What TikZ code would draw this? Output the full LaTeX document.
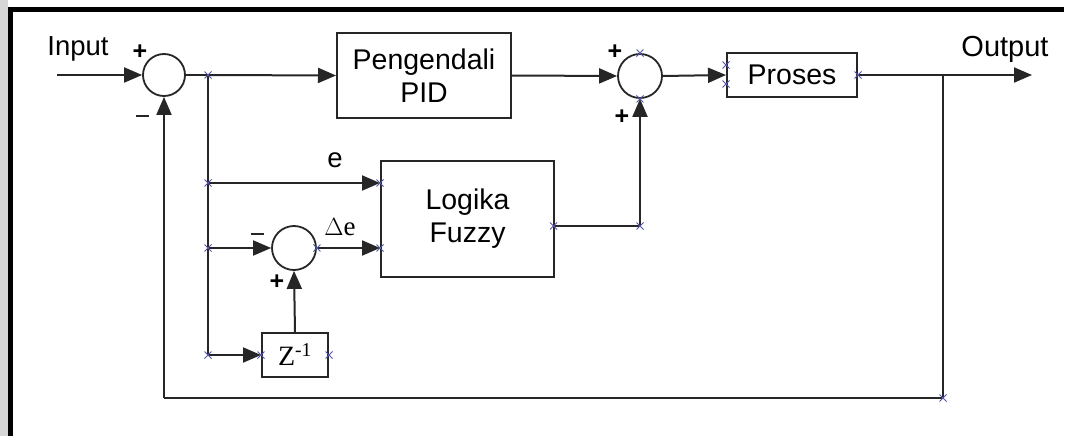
\documentclass[tikz,border=0pt]{standalone}
\usepackage{fontspec}
\setmainfont{Liberation Sans}
\newfontfamily\serifont{Liberation Serif}
\usetikzlibrary{arrows.meta,calc}
\definecolor{ln}{HTML}{262626}
\definecolor{mk}{HTML}{5555AA}
\tikzset{
  wire/.style={draw=ln,line width=2pt},
  arr/.style={wire,-{Triangle[length=18pt,width=15pt]}},
  sumc/.style={circle,draw=ln,line width=1.8pt,minimum size=42pt,inner sep=0pt},
  blk/.style={rectangle,draw=ln,line width=2pt,inner sep=0pt,align=center,font=\fontsize{28.5}{33}\selectfont},
  lbl/.style={font=\fontsize{27.5}{30}\selectfont,inner sep=0pt},
  sgn/.style={font=\fontsize{25}{26}\selectfont\bfseries,inner sep=0pt},
  msgn/.style={draw=ln,line width=2.2pt},
  xmark/.style={draw=mk,line width=0.9pt}
}
\newcommand{\xm}[1]{\draw[xmark] ($(#1)+(-3.5,-3.5)$) -- ($(#1)+(3.5,3.5)$) ($(#1)+(-3.5,3.5)$) -- ($(#1)+(3.5,-3.5)$);}
\begin{document}
\begin{tikzpicture}[x=1pt,y=-1pt]
\useasboundingbox (0,0) rectangle (1067,436);
\fill[white] (0,0) rectangle (1067,436);
% frame
\fill[black!16] (0,0) rectangle (8,436);
\fill[black] (8,7) rectangle (13,436);
\fill[black] (8,7) rectangle (1064,12);

% nodes
\node[sumc] (s1) at (164,75) {};
\node[blk,minimum width=174pt,minimum height=85pt] (pid) at (424,75.5) {Pengendali\\PID};
\node[sumc,minimum size=44pt] (s2) at (640,76) {};
\node[blk,minimum width=130pt,minimum height=44pt] (proc) at (792,75) {Proses};
\node[blk,minimum width=173pt,minimum height=116pt] (fz) at (467.5,219) {Logika\\Fuzzy};
\node[sumc,minimum size=44pt] (s3) at (294,248) {};
\node[blk,minimum width=66pt,minimum height=44pt,font=\serifont\fontsize{28}{30}\selectfont] (z) at (295,355) {Z\textsuperscript{-1}};

% labels
\node[lbl] (tin) at (78,49) {Input};
\node[lbl,font=\fontsize{29}{30}\selectfont] (tout) at (1005,49) {Output};
\node[lbl] (te) at (335,160) {e};
\node[lbl,font=\serifont\fontsize{27}{30}\selectfont] (tde) at (340,227) {$\Delta$e};
\node[sgn] (p1) at (140,52) {+};
\node[sgn] (p2) at (615,52) {+};
\node[sgn] (p3) at (622,117) {+};
\node[sgn] (p4) at (277,282) {+};
% minus signs
\coordinate (m1) at (142,116);
\coordinate (m3) at (257,234);
\draw[msgn] ($(m1)+(-6.5,0)$) -- ($(m1)+(6.5,0)$);
\draw[msgn] ($(m3)+(-6.5,0)$) -- ($(m3)+(6.5,0)$);

% coordinates
\coordinate (cin) at (57,75);
\coordinate (b1) at (208,75);
\coordinate (cout) at (1032,75);
\coordinate (b2) at (943,75);
\coordinate (fb) at (943,398);
\coordinate (fbl) at (164,398);
\coordinate (be) at (208,183);
\coordinate (bd) at (208,248);
\coordinate (bz) at (208,355);
\coordinate (fo) at (640,226);
\coordinate (fi) at (553.5,226);

% connectors
\draw[arr] (cin) -- (s1.west);
\draw[wire] (s1.east) -- (b1);
\draw[arr] (b1) -- (pid.west);
\draw[arr] (pid.east) -- (s2.west);
\draw[arr] (s2.east) -- (proc.west);
\draw[arr] (proc.east) -- (cout);
\draw[wire] (b2) -- (fb) -- (fbl);
\draw[arr] (fbl) -- (s1.south);
\draw[wire] (b1) -- (bz);
\draw[arr] (be) -- (be -| fz.west);
\draw[arr] (bd) -- (s3.west);
\draw[arr] (s3.east) -- (s3.east -| fz.west);
\draw[arr] (bz) -- (z.west);
\draw[arr] (z.north) -- (s3.south);
\draw[wire] (fi) -- (fo);
\draw[arr] (fo) -- (s2.south);

% connection marks
\xm{b1}\xm{be}\xm{bd}\xm{bz}
\xm{be -| fz.west}\xm{s3.east -| fz.west}\xm{s3.east}
\xm{fi}\xm{fo}\xm{z.west}\xm{z.east}
\xm{s2.north}\xm{s2.south}
\xm{$(proc.west)+(0,-10)$}\xm{$(proc.west)+(0,9)$}
\xm{proc.east}\xm{fb}
\end{tikzpicture}
\end{document}
